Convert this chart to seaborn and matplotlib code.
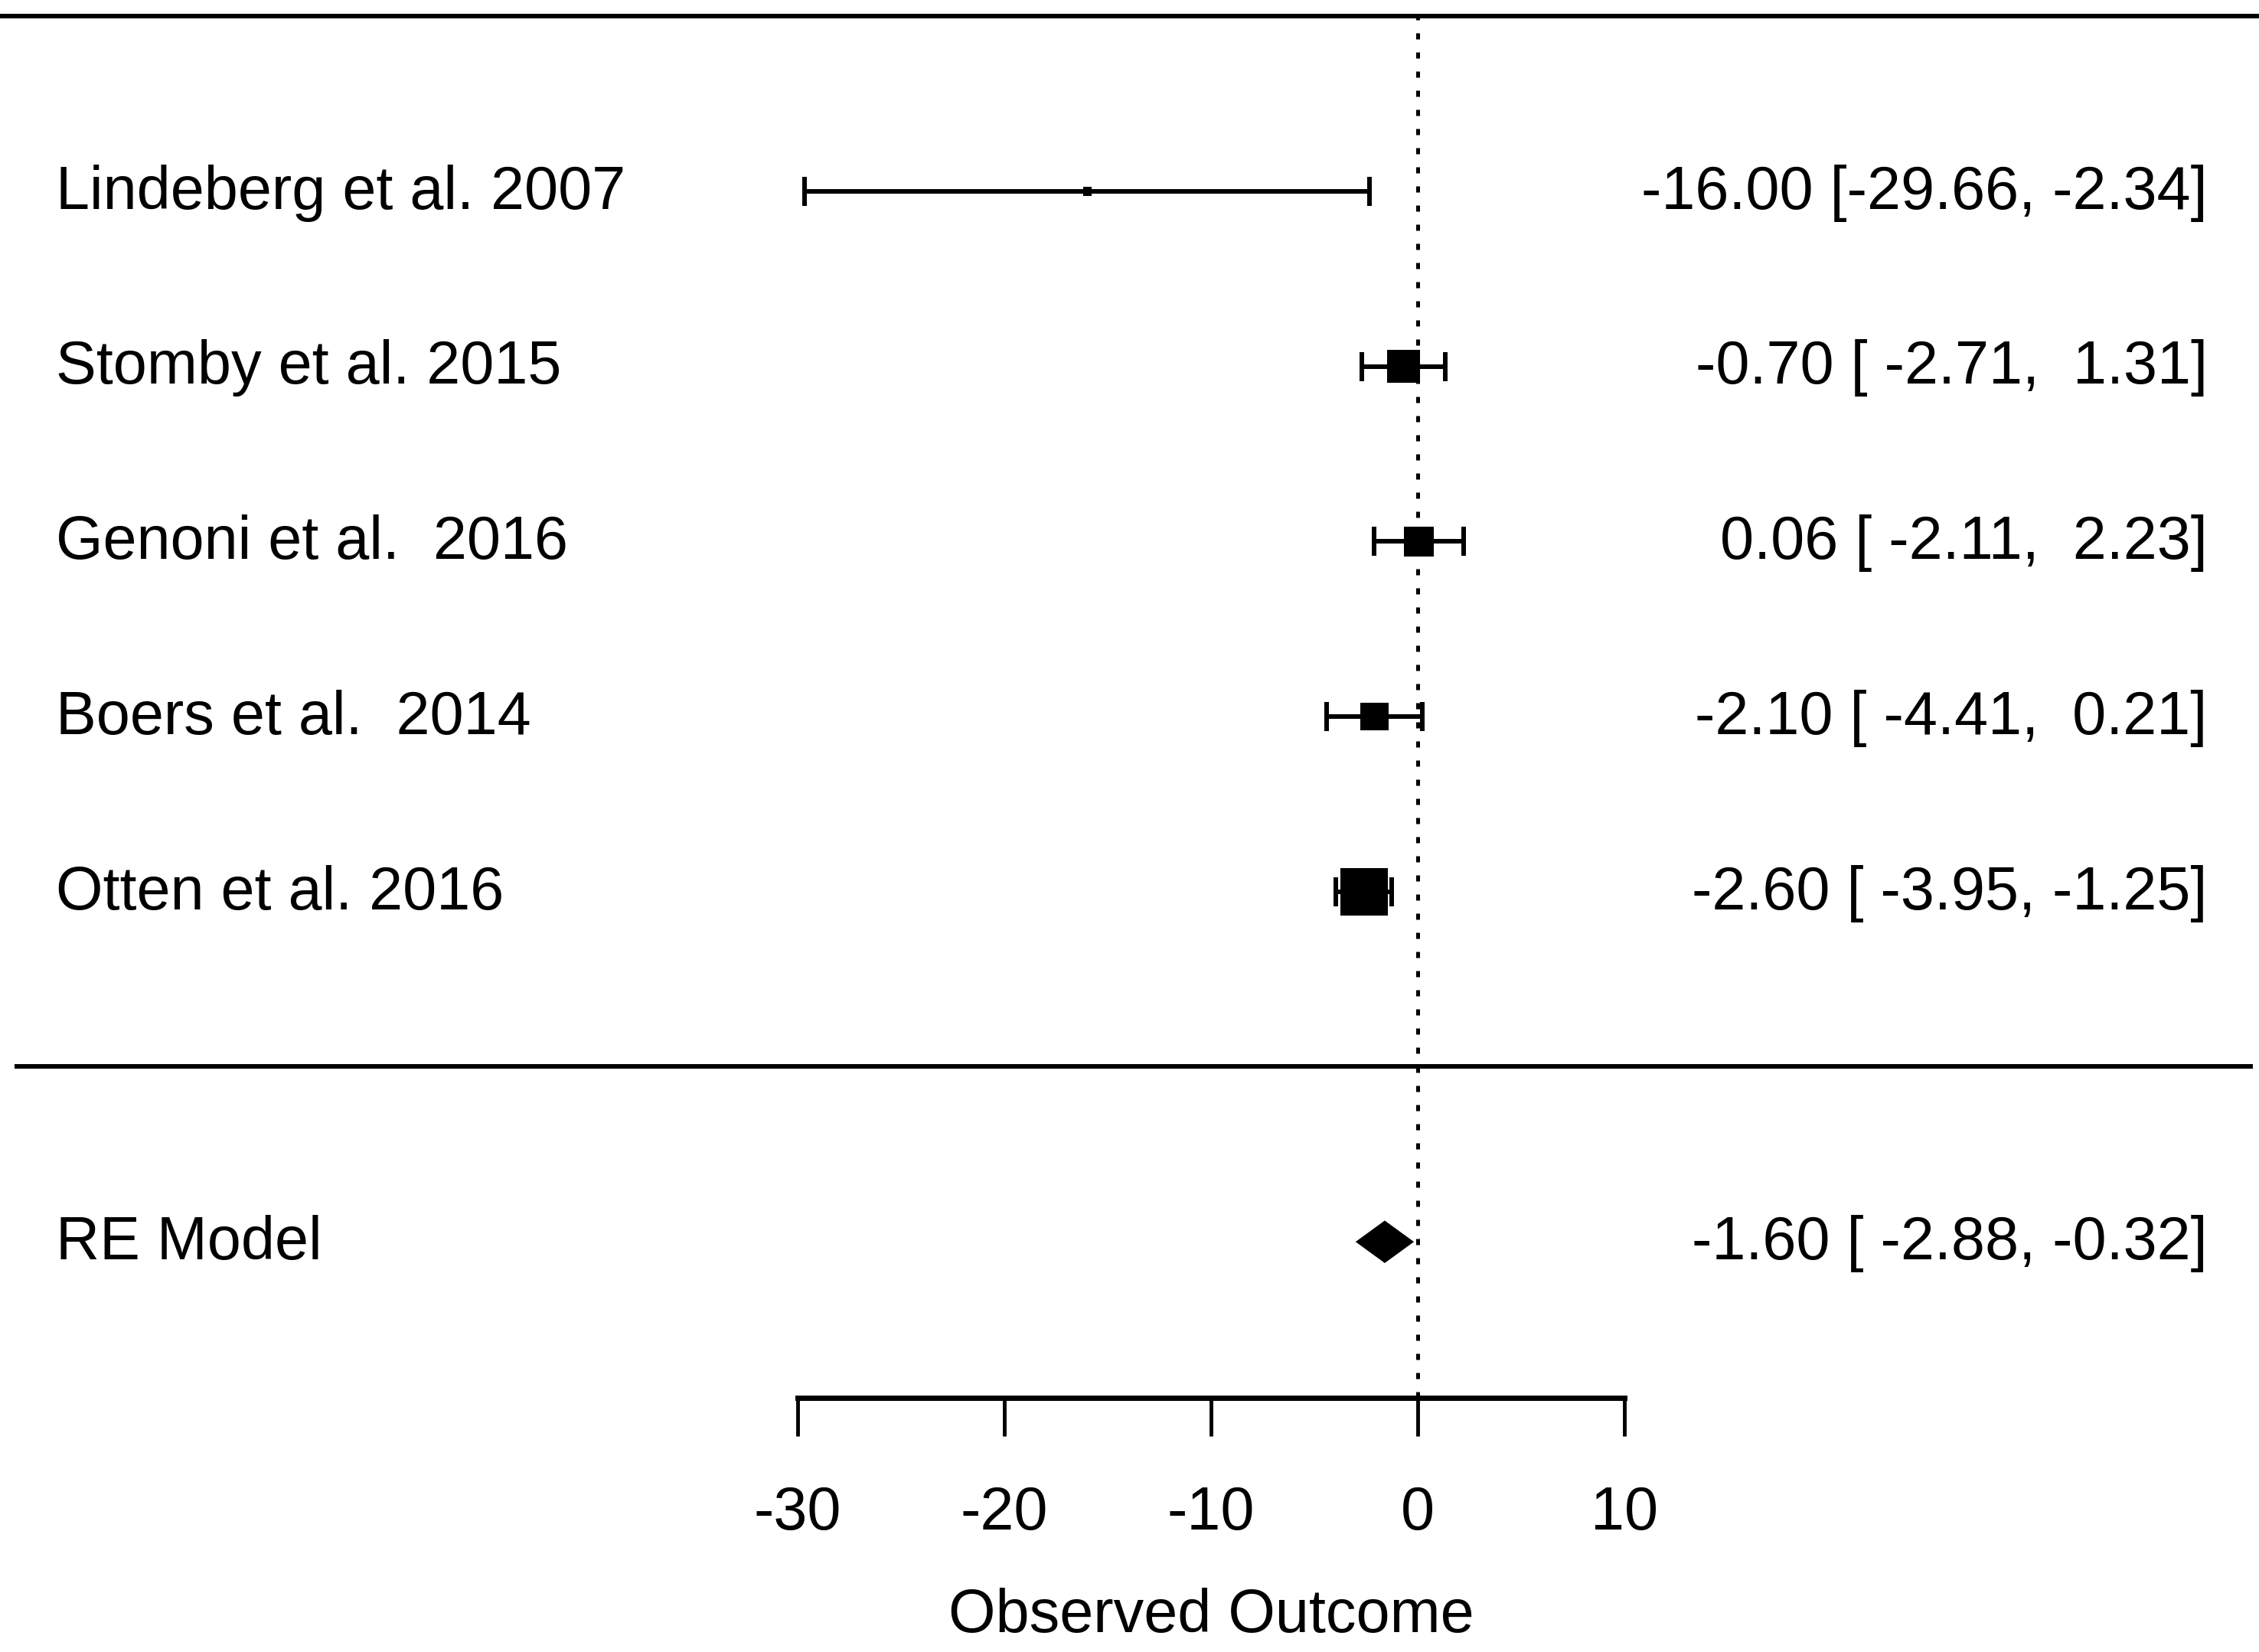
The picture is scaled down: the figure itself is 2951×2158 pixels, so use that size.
import numpy as np
import pandas as pd
import seaborn as sns
import matplotlib
matplotlib.use("Agg")
import matplotlib.pyplot as plt

# study data
studies = ["Lindeberg et al. 2007", "Stomby et al. 2015", "Genoni et al.  2016",
           "Boers et al.  2014", "Otten et al. 2016"]
est = [-16.00, -0.70, 0.06, -2.10, -2.60]
ci_lo = [-29.66, -2.71, -2.11, -4.41, -3.95]
ci_hi = [-2.34, 1.31, 2.23, 0.21, -1.25]
weights = [0.9, 23.5, 21.3, 19.8, 34.5]  # approx % weights (box size)

re_label = "RE Model"
re_est, re_lo, re_hi = -1.60, -2.88, -0.32

xticks = [-30, -20, -10, 0, 10]
xlabel = "Observed Outcome"

sns.set_style("white")
plt.rcParams['font.family'] = ['Liberation Sans', 'DejaVu Sans']
plt.rcParams['text.color'] = 'black'
fs = 57
lw = 4.3

rows = list(range(len(studies), 0, -1))
df = pd.DataFrame({"study": studies, "est": est, "lo": ci_lo, "hi": ci_hi,
                   "w": weights, "row": rows})

fig = plt.figure(figsize=(29.51, 21.58), dpi=100)
ax = fig.add_axes([0, 0, 1, 1])
ax.set_xlim(-68.6, 40.7)
ax.set_ylim(-3.343, 6.093)

# top and separator lines
ax.axhline(6, color="black", lw=lw)
ax.plot([-67.9, 40.4], [0, 0], color="black", lw=lw, solid_capstyle="butt")

# reference line at 0
ax.plot([0, 0], [-1.89, 6], color="black", lw=3.6,
        linestyle=(0, (1.6, 3.4)), dash_capstyle="butt")

# confidence intervals with caps
cap = 0.083
ax.hlines(df["row"], df["lo"], df["hi"], color="black", lw=lw)
ax.vlines(df["lo"], df["row"] - cap, df["row"] + cap, color="black", lw=lw)
ax.vlines(df["hi"], df["row"] - cap, df["row"] + cap, color="black", lw=lw)

# boxes sized by weight
side = np.maximum(df["w"] * 1.25 + 1.5, 8)
size_map = dict(zip(df["w"], side ** 2))
sns.scatterplot(data=df, x="est", y="row", size="w", sizes=size_map,
                marker="s", color="black", linewidth=0, legend=False, ax=ax,
                zorder=3)

# summary diamond
h = 0.11
ax.fill([re_lo, re_est, re_hi, re_est], [-1, -1 + h, -1, -1 - h],
        facecolor="black", edgecolor="black", lw=3, zorder=3)

# labels
def fmt(e, l, u):
    return f"{e:.2f} [{l:6.2f}, {u:5.2f}]"

for s, e, l, u, r in zip(studies, est, ci_lo, ci_hi, rows):
    ax.text(-65.9, r - 0.01, s, fontsize=fs, ha="left", va="center")
    ax.text(38.2, r - 0.01, fmt(e, l, u), fontsize=fs, ha="right", va="center")
ax.text(-65.9, -1.01, re_label, fontsize=fs, ha="left", va="center")
ax.text(38.2, -1.01, fmt(re_est, re_lo, re_hi), fontsize=fs, ha="right", va="center")

# x axis drawn as a detached bottom spine
for sp in ["top", "left", "right"]:
    ax.spines[sp].set_visible(False)
ax.spines["bottom"].set_position(("data", -1.89))
ax.spines["bottom"].set_bounds(-30, 10)
ax.spines["bottom"].set_linewidth(5)
ax.spines["bottom"].set_color("black")
ax.set_xticks(xticks)
ax.set_xticklabels([str(t) for t in xticks])
ax.set_yticks([])
ax.set_xlabel("")
ax.set_ylabel("")
ax.tick_params(axis="x", bottom=True, direction="out", length=36, width=3.5,
               pad=46, labelsize=fs, colors="black")
ax.text(-10, -3.14, xlabel, fontsize=fs, ha="center", va="center")

fig.savefig("out.png", dpi=100)
